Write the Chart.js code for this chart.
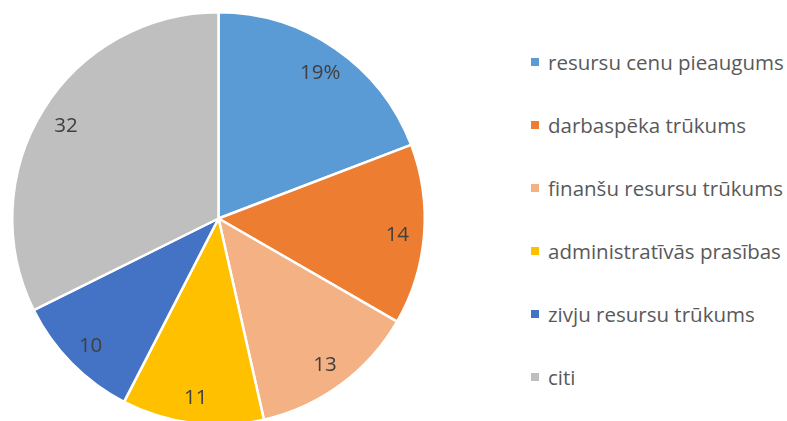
<!DOCTYPE html>
<html>
<head>
<meta charset="utf-8">
<script src="https://cdn.jsdelivr.net/npm/chart.js@4"></script>
<style>
  html, body { margin: 0; padding: 0; background: #fff; overflow: hidden; }
  body { width: 787px; height: 421px; position: relative; }
  #pieBox { position: absolute; left: 0; top: 0; width: 436px; height: 438px; }
  #legend { position: absolute; left: 531px; top: 0; font-family: "Open Sans", sans-serif; font-size: 20.5px; color: #595959; }
  .item { position: absolute; white-space: nowrap; display: flex; align-items: center; }
  .sw { width: 8px; height: 8px; margin-right: 9px; }
</style>
</head>
<body>
<div id="pieBox"><canvas id="pieChart"></canvas></div>
<div id="legend"></div>
<script>
const categories = ["resursu cenu pieaugums", "darbaspēka trūkums", "finanšu resursu trūkums", "administratīvās prasības", "zivju resursu trūkums", "citi"];
const values = [19, 14, 13, 11, 10, 32];
const valueLabels = ["19%", "14", "13", "11", "10", "32"];
const colors = ["#5B9BD5", "#ED7D31", "#F4B183", "#FFC000", "#4472C4", "#BFBFBF"];

// labels painted inside the slices
const sliceLabels = {
    id: 'sliceLabels',
    afterDatasetsDraw(chart) {
        const ctx = chart.ctx;
        const meta = chart.getDatasetMeta(0);
        ctx.save();
        ctx.font = '20.5px "Open Sans", sans-serif';
        ctx.fillStyle = '#404040';
        ctx.textAlign = 'center';
        ctx.textBaseline = 'middle';
        meta.data.forEach((arc, i) => {
            const mid = (arc.startAngle + arc.endAngle) / 2;
            const r = arc.outerRadius * 0.87;
            ctx.fillText(valueLabels[i], arc.x + Math.cos(mid) * r, arc.y + Math.sin(mid) * r + 2);
        });
        ctx.restore();
    }
};

new Chart(document.getElementById("pieChart"), {
    type: 'pie',
    data: {
        labels: categories,
        datasets: [{
            data: values,
            backgroundColor: colors,
            borderColor: '#ffffff',
            borderWidth: 2.5
        }]
    },
    options: {
        responsive: true,
        maintainAspectRatio: false,
        animation: false,
        layout: { padding: { left: 11, right: 10, top: 11, bottom: 12 } },
        plugins: {
            legend: { display: false },
            tooltip: { enabled: false }
        }
    },
    plugins: [sliceLabels]
});

const legend = document.getElementById("legend");
categories.forEach((name, i) => {
    const row = document.createElement("div");
    row.className = "item";
    row.style.top = (62 + i * 63 - 15) + "px";
    row.style.height = "30px";
    row.innerHTML = '<span class="sw" style="background:' + colors[i] + '"></span><span>' + name + '</span>';
    legend.appendChild(row);
});
</script>
</body>
</html>
